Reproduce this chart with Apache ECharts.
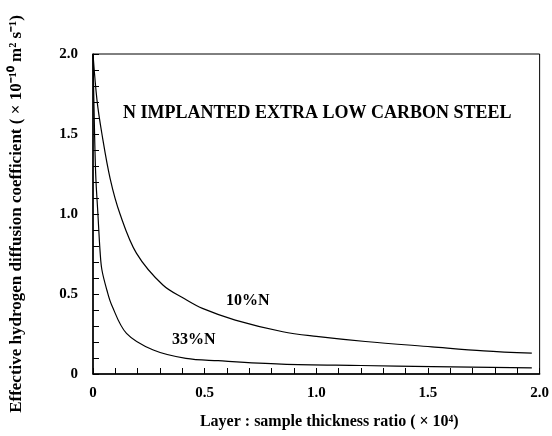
<!DOCTYPE html>
<html><head><meta charset="utf-8">
<script src="https://cdn.jsdelivr.net/npm/echarts@6/dist/echarts.min.js"></script>
<style>html,body{margin:0;padding:0;background:#fff}#c{width:552px;height:436px}</style>
</head><body><div id="c"></div>
<script>
const x10 = [0, 0.018, 0.04, 0.077, 0.121, 0.195, 0.313, 0.41, 0.49, 0.637, 0.85, 1.0, 1.22, 1.517, 1.75, 1.965];
const y10 = [2.0, 1.71, 1.50, 1.22, 1.00, 0.754, 0.556, 0.47, 0.41, 0.337, 0.264, 0.235, 0.203, 0.17, 0.145, 0.13];
const x33 = [0, 0.004, 0.012, 0.022, 0.032, 0.04, 0.062, 0.084, 0.15, 0.27, 0.416, 0.56, 0.844, 1.2, 1.52, 1.965];
const y33 = [2.0, 1.70, 1.25, 1.0, 0.76, 0.65, 0.525, 0.43, 0.254, 0.15, 0.098, 0.083, 0.062, 0.053, 0.046, 0.038];
const xTicks = ['0', '0.5', '1.0', '1.5', '2.0'];
const yTicks = ['0', '0.5', '1.0', '1.5', '2.0'];
const seriesNames = ['10%N', '33%N'];
const chartTitle = 'N IMPLANTED EXTRA LOW CARBON STEEL';
const xName = 'Layer : sample thickness ratio ( \u00d7 10\u2074)';
const yName = 'Effective hydrogen diffusion coefficient ( \u00d7 10\u207b\u00b9\u2070 m\u00b2 s\u207b\u00b9)';

const F = '"Liberation Serif", "Times New Roman", serif';
const chart = echarts.init(document.getElementById('c'));
const lbl = (ticks) => (v) => { const i = Math.round(v / 0.5); return (Math.abs(v - i * 0.5) < 1e-6) ? ticks[i] : ''; };
chart.setOption({
  animation: false,
  grid: { left: 91, right: 9, top: 54, bottom: 62, show: true, borderColor: '#000', borderWidth: 1 },
  xAxis: {
    type: 'value', min: 0, max: 2, interval: 0.5,
    axisLine: { lineStyle: { color: '#000', width: 1.5 } },
    axisTick: { inside: true, length: 6, lineStyle: { color: '#000' } },
    minorTick: { show: true, splitNumber: 5, length: 6, lineStyle: { color: '#000' } },
    splitLine: { show: false },
    axisLabel: { color: '#000', fontFamily: F, fontWeight: 'bold', fontSize: 15, margin: 12, formatter: lbl(xTicks) },
    name: xName, nameLocation: 'middle', nameGap: 40,
    nameTextStyle: { color: '#000', fontFamily: F, fontWeight: 'bold', fontSize: 16, padding: [0, 0, 0, 26] }
  },
  yAxis: {
    type: 'value', min: 0, max: 2, interval: 0.5,
    axisLine: { lineStyle: { color: '#000', width: 1.5 } },
    axisTick: { inside: true, length: 6, lineStyle: { color: '#000' } },
    minorTick: { show: true, splitNumber: 5, length: 6, lineStyle: { color: '#000' } },
    splitLine: { show: false },
    axisLabel: { color: '#000', fontFamily: F, fontWeight: 'bold', fontSize: 15, margin: 15, formatter: lbl(yTicks) },
    name: yName, nameLocation: 'middle', nameGap: 68, nameRotate: 90,
    nameTextStyle: { color: '#000', fontFamily: F, fontWeight: 'bold', fontSize: 17 }
  },
  series: [
    { name: seriesNames[0], type: 'line', smooth: 0.35, symbol: 'none', lineStyle: { color: '#000', width: 1.2 },
      data: x10.map((x, i) => [x, y10[i]]) },
    { name: seriesNames[1], type: 'line', smooth: 0.35, symbol: 'none', lineStyle: { color: '#000', width: 1.2 },
      data: x33.map((x, i) => [x, y33[i]]) }
  ],
  graphic: [
    { type: 'text', left: 123, top: 104, style: { text: chartTitle, font: 'bold 18px ' + F, fill: '#000' } },
    { type: 'text', left: 226, top: 293, style: { text: seriesNames[0], font: 'bold 16px ' + F, fill: '#000' } },
    { type: 'text', left: 172, top: 332, style: { text: seriesNames[1], font: 'bold 16px ' + F, fill: '#000' } }
  ]
});
</script></body></html>
